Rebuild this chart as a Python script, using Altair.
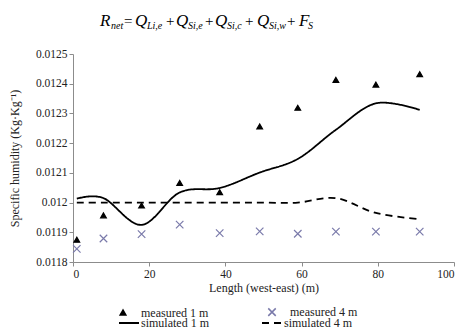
import altair as alt
import pandas as pd

# ---- data ----
x_pos = [1, 8, 18, 28, 38.5, 49, 59, 69, 79.5, 91]
measured_1m = [0.011875, 0.011957, 0.01199, 0.012066, 0.012035, 0.012256, 0.012319, 0.012413, 0.012397, 0.012432]
measured_4m = [0.011844, 0.011879, 0.011894, 0.011926, 0.011897, 0.011903, 0.011895, 0.011902, 0.011902, 0.011902]
simulated_1m = [0.012013, 0.012015, 0.011925, 0.012034, 0.012049, 0.012101, 0.012147, 0.012245, 0.012334, 0.012312]
simulated_4m = [0.012, 0.012, 0.012, 0.012, 0.012, 0.012, 0.012, 0.012015, 0.011965, 0.011944]
measured_names = ["measured 1 m", "measured 4 m"]
simulated_names = ["simulated 1 m", "simulated 4 m"]

pts = pd.DataFrame({
    "x": x_pos * 2,
    "y": measured_1m + measured_4m,
    "series": [measured_names[0]] * len(x_pos) + [measured_names[1]] * len(x_pos),
})
lines = pd.DataFrame({
    "x": x_pos * 2,
    "y": simulated_1m + simulated_4m,
    "series": [simulated_names[0]] * len(x_pos) + [simulated_names[1]] * len(x_pos),
})

FONT = "Liberation Serif, Times New Roman, serif"
XPATH = "M-1,-1L1,1M-1,1L1,-1"

axis_style = dict(labelFont=FONT, labelFontSize=11.5, labelColor="#222",
                  titleFont=FONT, titleFontSize=12, titleFontWeight="normal", titleColor="#222",
                  grid=False, domainColor="#8c8c8c", tickColor="#8c8c8c", tickSize=4,
                  labelPadding=2)

xenc = alt.X("x:Q", scale=alt.Scale(domain=[0, 100], nice=False),
             axis=alt.Axis(values=[0, 20, 40, 60, 80, 100], title="Length (west-east) (m)",
                           titlePadding=3, **axis_style))
yenc = alt.Y("y:Q", scale=alt.Scale(domain=[0.0118, 0.0125], nice=False, zero=False),
             axis=alt.Axis(values=[0.0118, 0.0119, 0.012, 0.0121, 0.0122, 0.0123, 0.0124, 0.0125],
                           labelExpr="replace(format(datum.value, '.4f'), /0+$/, '')",
                           title="Specific humidity (Kg·Kg⁻¹)", titlePadding=14, **axis_style))

legend_common = dict(title=None, orient="none", columns=2, direction="horizontal", padding=0,
                     labelFont=FONT, labelFontSize=12, labelColor="#222")

leg_pts = alt.Legend(legendX=44, legendY=252, columnPadding=56, labelOffset=12,
                     **legend_common)
leg_lines = alt.Legend(legendX=45, legendY=258, columnPadding=49, labelOffset=1,
                       symbolType="stroke", symbolSize=400, symbolStrokeWidth=1.8,
                       **legend_common)

p_stroke = alt.Scale(domain=measured_names, range=["#000000", "#7a7aaa"])
p_fill = alt.Scale(domain=measured_names, range=["#000000", "transparent"])
p_shape = alt.Scale(domain=measured_names, range=["triangle-up", XPATH])
p_size = alt.Scale(type="ordinal", domain=measured_names, range=[32, 56])
l_stroke = alt.Scale(domain=simulated_names, range=["#000000", "#000000"])
l_dash = alt.Scale(domain=simulated_names, range=[[1, 0], [7, 5]])

points = alt.Chart(pts).mark_point(filled=False, strokeWidth=1.2, opacity=1).encode(
    x=xenc, y=yenc,
    stroke=alt.Stroke("series:N", scale=p_stroke, legend=leg_pts),
    fill=alt.Fill("series:N", scale=p_fill, legend=leg_pts),
    shape=alt.Shape("series:N", scale=p_shape, legend=leg_pts),
    size=alt.Size("series:N", scale=p_size, legend=leg_pts),
)

line = alt.Chart(lines).mark_line(interpolate="cardinal", strokeWidth=1.8).encode(
    x=xenc, y=yenc,
    stroke=alt.Stroke("series:N", scale=l_stroke, legend=leg_lines),
    strokeDash=alt.StrokeDash("series:N", scale=l_dash, legend=leg_lines),
    detail="series:N",
)

one = pd.DataFrame({"a": [0]})


def piece(txt, x, y, size):
    return alt.Chart(one).mark_text(font=FONT, fontStyle="italic", fontSize=size, align="left",
                                    baseline="alphabetic", color="#000").encode(
        x=alt.value(x), y=alt.value(y), text=alt.value(txt))


def op(txt, x, y, size):
    return alt.Chart(one).mark_text(font=FONT, fontSize=size, align="left",
                                    baseline="alphabetic", color="#000").encode(
        x=alt.value(x), y=alt.value(y), text=alt.value(txt))


ox, oy = 73, 54
B = 26 - oy
S = 29 - oy
formula = [
    piece("R", 100 - ox, B, 17), piece("net", 111 - ox, S, 10),
    op("=", 124 - ox, B, 15),
    piece("Q", 135 - ox, B, 17), piece("Li,e", 147 - ox, S, 10),
    op("+", 166 - ox, B, 15),
    piece("Q", 176 - ox, B, 17), piece("Si,e", 188 - ox, S, 10),
    op("+", 205 - ox, B, 15),
    piece("Q", 215 - ox, B, 17), piece("Si,c", 227 - ox, S, 10),
    op("+", 245 - ox, B, 15),
    piece("Q", 257 - ox, B, 17), piece("Si,w", 269 - ox, S, 10),
    op("+", 287 - ox, B, 15),
    piece("F", 299 - ox, B, 17), piece("S", 308 - ox, S, 10),
]

chart = alt.layer(line, points, *formula).resolve_scale(
    stroke="independent", fill="independent", shape="independent",
    size="independent", strokeDash="independent"
).resolve_legend(
    stroke="independent", fill="independent", shape="independent",
    size="independent", strokeDash="independent"
).properties(
    width=381, height=208,
    autosize=alt.AutoSizeParams(type="none"),
    padding={"left": 73, "top": 54, "right": 8, "bottom": 70},
).configure(font=FONT).configure_view(stroke=None)

chart.save("out.html", embed_options={"renderer": "svg", "actions": False})
